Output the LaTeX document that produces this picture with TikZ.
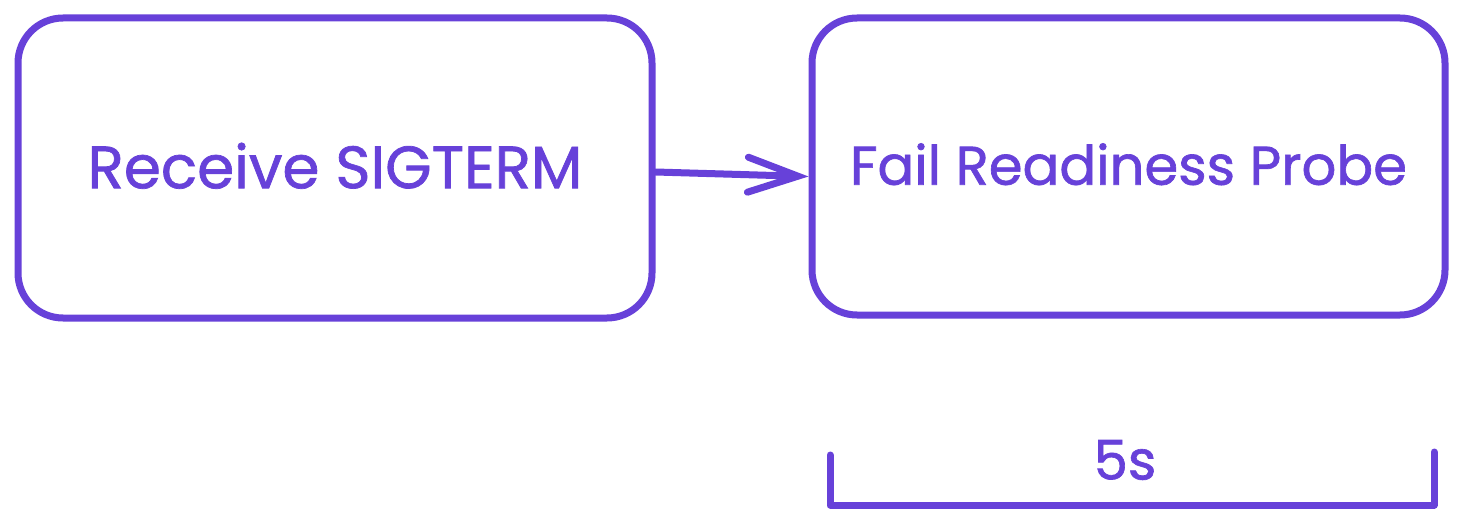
\documentclass[tikz,border=0pt]{standalone}
\usepackage{fontspec}
\setmainfont{Poppins}
\newfontfamily\sketchfont{Poppins}[FakeBold=1.2]
\usepackage{tikz}
\usetikzlibrary{positioning,arrows.meta}
\definecolor{violet}{HTML}{6741D9}
\tikzstyle{process} = [rectangle, rounded corners=0.9cm, minimum width=12.68cm, minimum height=6cm, text centered, draw=violet, line width=0.14cm, text=violet, font=\sketchfont\fontsize{31}{36}\selectfont]
\tikzstyle{arrow} = [line width=0.14cm, draw=violet, line cap=round, -{Straight Barb[length=1cm,width=0.7cm,line cap=round]}]
\tikzstyle{span} = [line width=0.14cm, draw=violet, line cap=round, line join=round]

\begin{document}
\begin{tikzpicture}
	\useasboundingbox (0,0) rectangle (29.26,-10.54);
	\node (recv) [process, font=\sketchfont\fontsize{34}{40}\selectfont] at (6.7,-3.36) {\raisebox{0.1cm}{Receive SIGTERM}};
	\node (fail) [process, minimum width=12.66cm, minimum height=5.94cm] at (22.57,-3.33) {\raisebox{0.1cm}{Fail Readiness Probe}};
	\draw [arrow] ([yshift=-0.08cm]recv.east) -- ([yshift=-0.2cm]fail.west);
	\coordinate (span left) at (16.6,-9.1);
	\coordinate (span right) at (28.68,-9.04);
	\draw [span] (span left) |- (span right |- 0,-10.1) -- (span right);
	\node (dur) at (22.5,-9.2) [text=violet, font=\sketchfont\fontsize{31}{36}\selectfont] {5s};
\end{tikzpicture}
\end{document}
